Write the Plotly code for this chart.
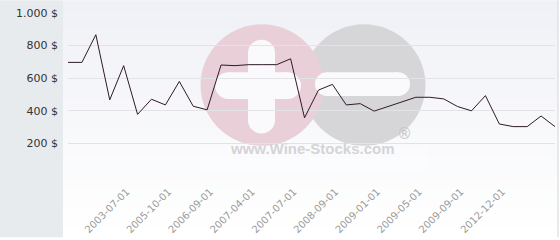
import plotly.graph_objects as go

# ---- data ----
prices = [697, 697, 867, 467, 677, 378, 471, 436, 580, 428, 406, 681, 677, 683, 683, 683,
          719, 357, 527, 562, 436, 444, 398, 426, 455, 483, 483, 473, 426, 400, 493, 319,
          303, 303, 368, 303]
point_index = list(range(len(prices)))
x_tick_index = [4, 7, 10, 13, 16, 19, 22, 25, 28, 31]
x_tick_labels = ["2003-07-01", "2005-10-01", "2006-09-01", "2007-04-01", "2007-07-01",
                 "2008-09-01", "2009-01-01", "2009-05-01", "2009-09-01", "2012-12-01"]
y_tick_values = [0, 200, 400, 600, 800, 1000]
y_tick_labels = ["", "200 $", "400 $", "600 $", "800 $", "1.000 $"]

# ---- geometry helpers (pixel -> paper) ----
W, H = 560, 240
ML, MR, MT, MB = 68, 5, 13, 62
PW, PH = W - ML - MR, H - MT - MB


def fx(x):
    return (x - ML) / PW


def fy(y):
    return (H - MB - y) / PH


shapes = []


def rect(x0, y0, x1, y1, color, line=None, opacity=1.0):
    shapes.append(dict(type="rect", xref="paper", yref="paper",
                       x0=fx(x0), x1=fx(x1), y0=fy(y1), y1=fy(y0),
                       fillcolor=color, opacity=opacity,
                       line=dict(width=0) if line is None else line, layer="below"))


def circle(cx, cy, r, color):
    shapes.append(dict(type="circle", xref="paper", yref="paper",
                       x0=fx(cx - r), x1=fx(cx + r), y0=fy(cy + r), y1=fy(cy - r),
                       fillcolor=color, line=dict(width=0), layer="below"))


def hbar(x0, x1, cy, r, color):
    rect(x0 + r, cy - r, x1 - r, cy + r, color)
    circle(x0 + r, cy, r, color)
    circle(x1 - r, cy, r, color)


def vbar(cx, y0, y1, r, color):
    rect(cx - r, y0 + r, cx + r, y1 - r, color)
    circle(cx, y0 + r, r, color)
    circle(cx, y1 - r, r, color)


# background: left panel + vertical gradient
rect(0, 0, 63, H, "#e8ebee")
bands = 24
for i in range(bands):
    t = i / (bands - 1)
    r = round(240 + (255 - 240) * t)
    g = round(241 + (255 - 241) * t)
    b = round(246 + (255 - 246) * t)
    rect(63, i * H / bands, 558, (i + 1) * H / bands + 0.5, f"rgb({r},{g},{b})")
rect(557.5, 0, 558.5, H, "#d4d6da")

# watermark
PINK = "#e9cfd8"
GREY = "#d6d6d8"
circle(364, 86, 61.5, GREY)
circle(262, 86, 61.5, PINK)
vbar(261.5, 40, 135, 13.5, "#fafafc")
hbar(215, 301, 86.5, 13.5, "#fafafc")
hbar(315, 410, 85, 12, "#fafafc")
rect(200, 148, 427, 175, "white", opacity=0.3)

fig = go.Figure()
fig.add_trace(go.Scatter(x=point_index, y=prices, mode="lines",
                         line=dict(color="#2e1a28", width=1), hoverinfo="skip"))

fig.update_layout(
    width=W, height=H,
    margin=dict(l=ML, r=MR, t=MT, b=MB),
    paper_bgcolor="white",
    plot_bgcolor="rgba(0,0,0,0)",
    showlegend=False,
    shapes=shapes,
    font=dict(family="DejaVu Sans"),
    annotations=[
        dict(text="www.Wine-Stocks.com", xref="paper", yref="paper",
             x=fx(312.5), y=fy(161), showarrow=False,
             font=dict(family="Liberation Sans", size=15, color="#d4d4d6", weight="bold")),
        dict(text="®", xref="paper", yref="paper",
             x=fx(413.5), y=fy(147), showarrow=False,
             font=dict(family="DejaVu Sans", size=15, color="#c6c6c8")),
    ],
    xaxis=dict(range=[0, len(prices) - 1], tickvals=x_tick_index, ticktext=x_tick_labels,
               tickangle=-45, showgrid=False, zeroline=False, showline=False,
               ticks="", ticklabelstandoff=7, ticklabelshift=3,
               tickfont=dict(size=10, color="#9a9a9a")),
    yaxis=dict(range=[0, 1000], tickvals=y_tick_values, ticktext=y_tick_labels,
               showgrid=True, gridcolor="#e2e3e6", gridwidth=1, zeroline=False,
               showline=False, ticks="", ticklabelstandoff=9,
               tickfont=dict(size=11, color="#333333")),
)

fig.write_html("out.html")
